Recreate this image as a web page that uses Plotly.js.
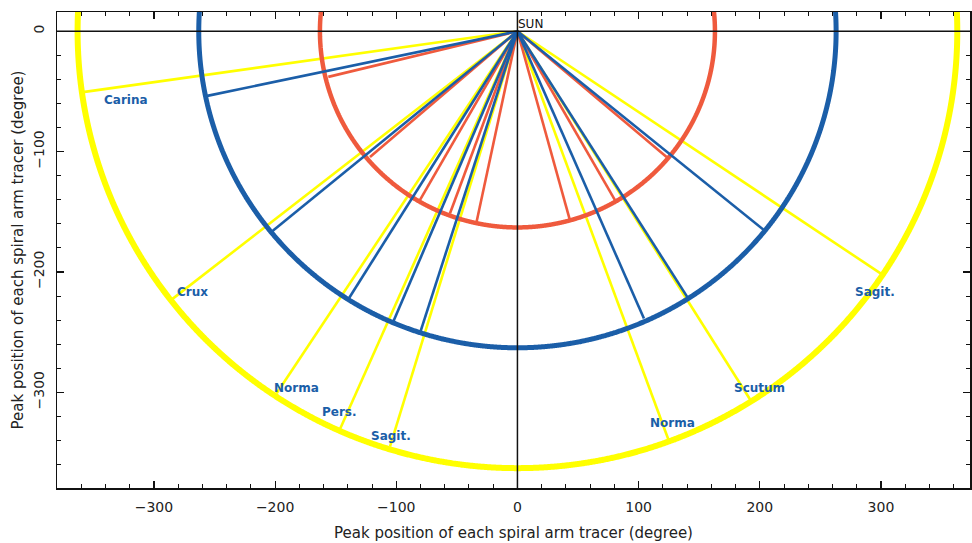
<!DOCTYPE html>
<html>
<head>
<meta charset="utf-8">
<script src="https://cdn.plot.ly/plotly-3.0.1.min.js"></script>
<style>html,body{margin:0;padding:0;background:#fff}#chart{width:972px;height:543px}</style>
</head>
<body>
<div id="chart"></div>
<script>
// ring radii (degree units)
const ringRadius = { yellow: 363, blue: 263, red: 163 };

// tracer names, in order
const tracers = ["Carina", "Crux", "Norma", "Pers.", "Sagit.", "Norma", "Scutum", "Sagit."];

// peak-position endpoints of each tracer line, per ring
const yellowX = [-358.6, -286.0, -198.7, -146.5, -105.2, 124.5, 191.9, 300.6];
const yellowY = [-50.6, -223.4, -300.8, -330.7, -345.2, -339.0, -305.8, -201.8];
const blueX = [-256.0, -202.9, -138.8, -102.5, -79.9, 104.4, 140.4, 202.9];
const blueY = [-53.7, -166.6, -221.4, -241.4, -249.1, -238.6, -221.1, -164.7];
const redX = [-156.1, -121.7, -80.5, -55.7, -33.7, 43.3, 80.5, 123.1];
const redY = [-37.9, -104.4, -140.3, -151.4, -158.3, -157.0, -140.3, -104.4];

// label positions
const labelX = [-323.0, -267.8, -182.0, -146.5, -104.6, 127.8, 200.1, 295.0];
const labelY = [-57.0, -216.7, -296.4, -316.0, -336.3, -325.8, -296.2, -216.5];

const sun = { x: 0, y: 0, text: "SUN" };

const colors = { yellow: "#ffff00", blue: "#1b5ea8", red: "#ef5a3d" };

function arc(r) {
  const xs = [], ys = [];
  for (let a = -10; a <= 190; a += 0.25) {
    const t = a * Math.PI / 180;
    xs.push(r * Math.cos(t));
    ys.push(-r * Math.sin(t));
  }
  return { xs, ys };
}
function spokes(xe, ye) {
  const xs = [], ys = [];
  for (let i = 0; i < xe.length; i++) {
    xs.push(sun.x, xe[i], null);
    ys.push(sun.y, ye[i], null);
  }
  return { xs, ys };
}

const traces = [];
function addRing(name, xe, ye, arcW, lineW) {
  const a = arc(ringRadius[name]);
  const s = spokes(xe, ye);
  traces.push({ x: s.xs, y: s.ys, mode: "lines", line: { color: colors[name], width: lineW }, hoverinfo: "skip", showlegend: false });
  traces.push({ x: a.xs, y: a.ys, mode: "lines", line: { color: colors[name], width: arcW, shape: "spline", smoothing: 0.6, simplify: false }, hoverinfo: "skip", showlegend: false });
}
addRing("yellow", yellowX, yellowY, 6, 2.6);
addRing("red", redX, redY, 4.5, 2.6);
addRing("blue", blueX, blueY, 5, 2.6);

const annotations = tracers.map((t, i) => ({
  x: labelX[i], y: labelY[i], xref: "x", yref: "y", text: t, showarrow: false,
  font: { family: "DejaVu Sans", size: 12, color: "#1b5ea8", weight: "bold" }
}));
annotations.push({ x: sun.x, y: sun.y, xref: "x", yref: "y", text: sun.text, showarrow: false,
  xanchor: "left", yanchor: "bottom", xshift: -1, yshift: -2,
  font: { family: "DejaVu Sans", size: 12, color: "#111" } });

const axisCommon = {
  showgrid: false, zeroline: false, showline: true, linecolor: "#111", linewidth: 1.5,
  mirror: "ticks", ticks: "inside", ticklen: 7, tickwidth: 1.2, tickcolor: "#111",
  dtick: 100, tick0: 0,
  minor: { dtick: 20, ticks: "inside", ticklen: 4, tickwidth: 1, tickcolor: "#111" },
  tickfont: { family: "DejaVu Sans", size: 14, color: "#222" },
  ticklabelstandoff: 6
};

const layout = {
  width: 972, height: 543,
  margin: { l: 57, r: 2, t: 12, b: 55 },
  paper_bgcolor: "#fff", plot_bgcolor: "#fff",
  xaxis: Object.assign({}, axisCommon, {
    range: [-380, 373.5],
    title: { text: "Peak position of each spiral arm tracer (degree)", font: { family: "DejaVu Sans", size: 15, color: "#222" }, standoff: 13 }
  }),
  yaxis: Object.assign({}, axisCommon, {
    range: [-379.5, 16], tickangle: -90,
    title: { text: "Peak position of each spiral arm tracer (degree)", font: { family: "DejaVu Sans", size: 15, color: "#222" }, standoff: 3 }
  }),
  shapes: [
    { type: "line", xref: "x", yref: "paper", x0: 0, x1: 0, y0: 0, y1: 1, layer: "above", line: { color: "#111", width: 1.5 } },
    { type: "line", xref: "paper", yref: "y", x0: 0, x1: 1, y0: 0, y1: 0, layer: "above", line: { color: "#111", width: 1.5 } }
  ],
  annotations: annotations,
  showlegend: false
};

Plotly.newPlot("chart", traces, layout, { displayModeBar: false, staticPlot: true });
</script>
</body>
</html>
